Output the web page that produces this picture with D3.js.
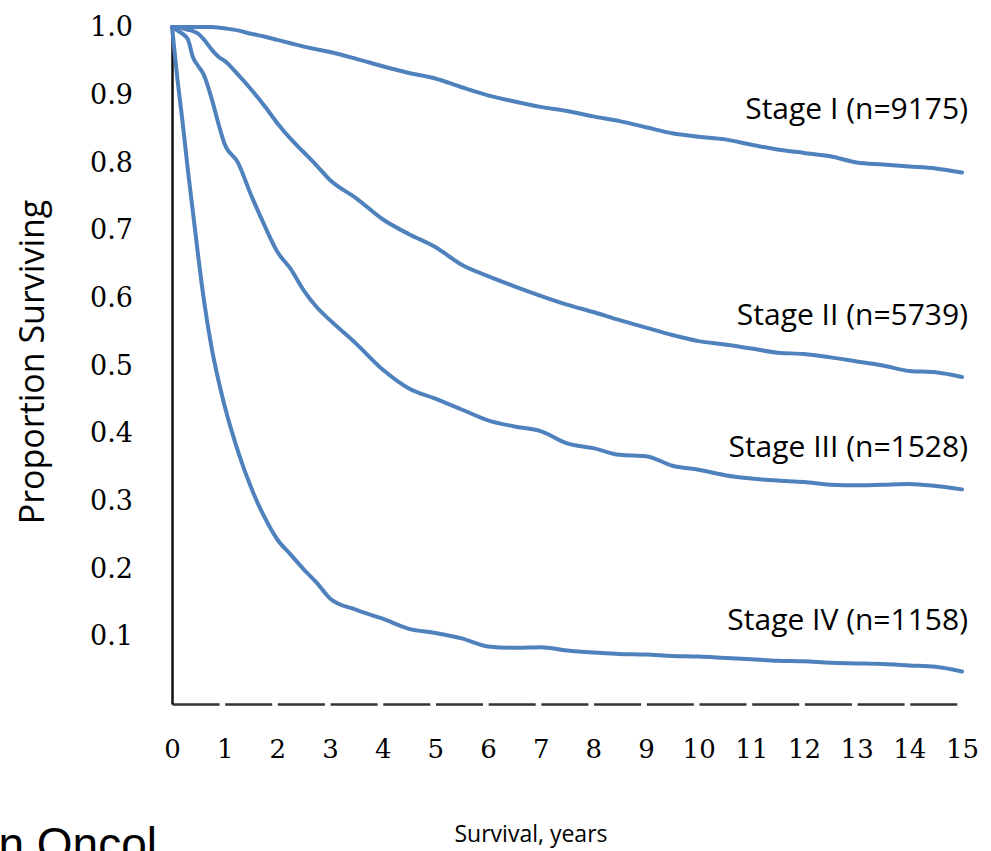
<!DOCTYPE html>
<html lang="en">

<head>
    <meta charset="UTF-8">
    <title>survival by stage</title>
    <script src="https://d3js.org/d3.v7.min.js"></script>
    <style>
        body { margin: 0; background: #fff; }
    </style>
</head>

<body>

    <script>
        // time grid (years) shared by all four curves
        var years = [0, 0.1, 0.2, 0.3, 0.4, 0.5, 0.6, 0.75, 0.9, 1, 1.25, 1.5, 1.75, 2, 2.25, 2.5, 2.75, 3,
            3.5, 4, 4.5, 5, 5.5, 6, 6.5, 7, 7.5, 8, 8.5, 9, 9.5, 10, 10.5, 11, 11.5, 12, 12.5, 13, 13.5, 14, 14.5, 15];

        var stage1 = [1.0, 1.0, 1.0, 1.0, 1.0, 1.0, 1.0, 1.0, 0.999, 0.998, 0.995, 0.99, 0.986, 0.981, 0.976, 0.971, 0.967, 0.963,
            0.953, 0.942, 0.932, 0.924, 0.911, 0.899, 0.890, 0.882, 0.876, 0.868, 0.861, 0.852, 0.843, 0.838, 0.834, 0.826, 0.819, 0.814, 0.809, 0.800, 0.797, 0.794, 0.791, 0.785];

        var stage2 = [1.0, 1.0, 0.998, 0.996, 0.994, 0.99, 0.982, 0.967, 0.955, 0.950, 0.930, 0.908, 0.884, 0.858, 0.835, 0.815, 0.795, 0.774,
            0.747, 0.716, 0.694, 0.675, 0.649, 0.632, 0.617, 0.603, 0.590, 0.579, 0.567, 0.556, 0.545, 0.536, 0.531, 0.525, 0.519, 0.517, 0.512, 0.506, 0.500, 0.492, 0.490, 0.483];

        var stage3 = [1.0, 0.995, 0.99, 0.982, 0.955, 0.942, 0.93, 0.895, 0.852, 0.827, 0.800, 0.752, 0.708, 0.668, 0.643, 0.611, 0.586, 0.567,
            0.532, 0.494, 0.466, 0.451, 0.435, 0.419, 0.410, 0.403, 0.385, 0.378, 0.368, 0.366, 0.352, 0.346, 0.338, 0.333, 0.330, 0.328, 0.324, 0.323, 0.324, 0.325, 0.322, 0.317];

        var stage4 = [1.0, 0.925, 0.86, 0.79, 0.725, 0.66, 0.60, 0.527, 0.472, 0.44, 0.374, 0.32, 0.277, 0.243, 0.221, 0.199, 0.179, 0.156,
            0.139, 0.126, 0.111, 0.105, 0.097, 0.085, 0.083, 0.084, 0.079, 0.076, 0.074, 0.073, 0.071, 0.070, 0.068, 0.066, 0.064, 0.063, 0.061, 0.060, 0.059, 0.057, 0.055, 0.048];

        var stageLabels = ["Stage I (n=9175)", "Stage II (n=5739)", "Stage III (n=1528)", "Stage IV (n=1158)"];
        var xTicks = d3.range(0, 16);
        var yTicks = [0.1, 0.2, 0.3, 0.4, 0.5, 0.6, 0.7, 0.8, 0.9, 1.0];

        var width = 991;
        var height = 851;

        var svg = d3.select("body")
            .append("svg")
            .attr("width", width)
            .attr("height", height);

        var x = d3.scaleLinear().domain([0, 15]).range([172, 962]);
        var y = d3.scaleLinear().domain([0, 1]).range([704, 27]);

        // x axis: dashed baseline, serif numbers
        var xAxis = svg.append("g")
            .attr("transform", "translate(0,704)")
            .call(d3.axisBottom(x).tickValues(xTicks).tickSize(0).tickPadding(36));
        xAxis.select(".domain")
            .attr("stroke", "#333")
            .attr("stroke-width", 2.5)
            .attr("stroke-dasharray", "47,5.7");
        xAxis.selectAll("text")
            .attr("font-family", "DejaVu Serif, serif")
            .attr("font-size", 26)
            .attr("fill", "#000");

        var yAxis = svg.append("g")
            .attr("transform", "translate(172,0)")
            .call(d3.axisLeft(y).tickValues(yTicks).tickSize(0).tickPadding(39).tickFormat(d3.format(".1f")));
        yAxis.select(".domain")
            .attr("stroke", "#111")
            .attr("stroke-width", 2.5);
        yAxis.selectAll("text")
            .attr("font-family", "DejaVu Serif, serif")
            .attr("font-size", 27)
            .attr("fill", "#000");

        var line = d3.line()
            .x(function (d) { return x(d[0]); })
            .y(function (d) { return y(d[1]); })
            .curve(d3.curveMonotoneX);

        var series = [stage1, stage2, stage3, stage4];

        svg.selectAll(".curve")
            .data(series)
            .enter()
            .append("path")
            .attr("class", "curve")
            .attr("fill", "none")
            .attr("stroke", "#4f81bd")
            .attr("stroke-width", 4)
            .attr("stroke-linejoin", "round")
            .attr("stroke-linecap", "round")
            .attr("d", function (vals) {
                return line(years.map(function (t, i) { return [t, vals[i]]; }));
            });

        // curve labels, right aligned
        var labelBaselines = [119, 325, 457, 630];
        svg.selectAll(".stage-label")
            .data(stageLabels)
            .enter()
            .append("text")
            .attr("class", "stage-label")
            .attr("x", 968)
            .attr("y", function (d, i) { return labelBaselines[i]; })
            .attr("text-anchor", "end")
            .attr("font-family", "Open Sans, sans-serif")
            .attr("font-size", 30)
            .attr("fill", "#000")
            .text(function (d) { return d; });

        svg.append("text")
            .attr("transform", "translate(44,362) rotate(-90)")
            .attr("text-anchor", "middle")
            .attr("font-family", "Open Sans, sans-serif")
            .attr("font-size", 34)
            .attr("fill", "#000")
            .text("Proportion Surviving");

        svg.append("text")
            .attr("x", 531)
            .attr("y", 842)
            .attr("text-anchor", "middle")
            .attr("font-family", "Open Sans, sans-serif")
            .attr("font-size", 23)
            .attr("fill", "#000")
            .text("Survival, years");

        // cut-off citation at the bottom edge
        svg.append("text")
            .attr("x", 157)
            .attr("y", 860)
            .attr("text-anchor", "end")
            .attr("font-family", "Liberation Sans, Arial, sans-serif")
            .attr("font-size", 46)
            .attr("fill", "#000")
            .text("J Clin Oncol");
    </script>
</body>

</html>
